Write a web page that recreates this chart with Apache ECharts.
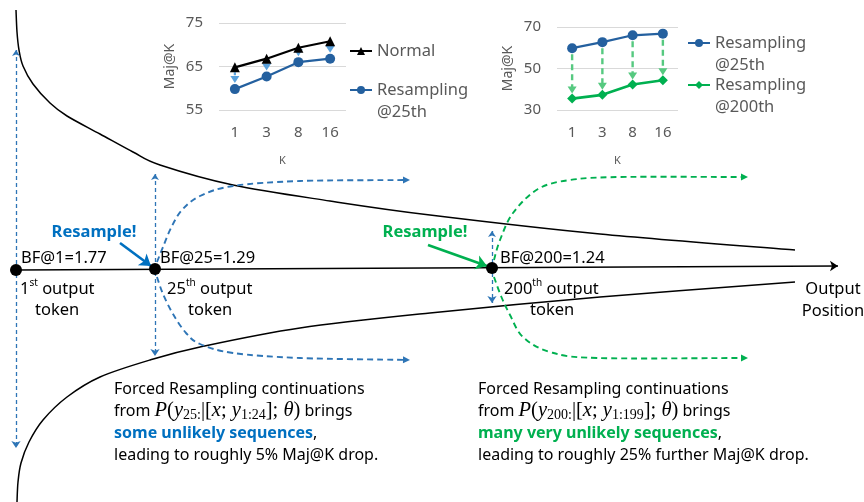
<!DOCTYPE html>
<html><head><meta charset="utf-8">
<script src="https://cdn.jsdelivr.net/npm/echarts@6/dist/echarts.min.js"></script>
<style>html,body{margin:0;padding:0;background:#fff}#c{width:864px;height:502px}</style>
</head><body><div id="c"></div>
<script>
// ---- inset data ----
const kLabels = ['1', '3', '8', '16'];
const normalMaj = [64.8, 66.8, 69.3, 70.8];
const resample25Maj = [59.8, 62.7, 66.0, 66.8];
const resample200Maj = [35.5, 37.3, 42.3, 44.3];
const inset1Ticks = [55, 65, 75];
const inset2Ticks = [30, 50, 70];

// ---- schematic diagram data (diagram units: x = output position, y = spread) ----
const upperBound = [[16,10],[17,32],[19,50],[23,66],[33,84],[50,103],[67,116],[100,134],[133,152],[160,165],[233,185],[330,201],[430,215],[600,234],[795,250]];
const lowerBound = [[17,502],[18,482],[21,463],[29,442],[43,420],[67,397],[100,377],[150,360],[200,347],[300,328],[430,313],[600,297],[795,282]];
const tokenAxis = [[16,270],[838,266]];
const tokenPoints = [[16,270],[155,269],[492,268]];
const spreadArrows = [[[16,50],[16,448]],[[155,174],[155,356]],[[492,231],[492,303]]];
const blueUp = [[157,262],[163,247],[171,228],[182,210],[200,196],[233,186],[300,181],[410,180]];
const blueDown = [[157,277],[163,294],[173,314],[186,333],[200,344],[233,353],[300,358],[410,360]];
const greenUp = [[494,260],[500,240],[513,213],[538,189],[570,180],[620,177],[748,177]];
const greenDown = [[494,277],[501,296],[510,315],[523,337],[550,352],[597,358],[748,358]];
const blueResampleArrow = [[120,243],[151,266]];
const greenResampleArrow = [[428,245],[487,266]];

const GRAY = '#595959';
const FONT = '"Noto Sans", sans-serif';
const BLUE_LINE = '#24609F';
const GREEN = '#00B050';
const DASH_BLUE = '#2E75B6';
const TXT = 16.5;   // labels on the diagram
const PTXT = 16;    // paragraph text

function dropArrow(color, topGap, bottomGap, dash, width) {
  return function (params, api) {
    const p1 = api.coord([api.value(0), api.value(1)]);
    const p2 = api.coord([api.value(0), api.value(2)]);
    const x = p1[0];
    const y1 = p1[1] + topGap, y2 = p2[1] - bottomGap;
    return { type: 'group', children: [
      { type: 'line', shape: { x1: x, y1: y1, x2: x, y2: y2 - 5 }, style: { stroke: color, lineWidth: width, lineDash: dash } },
      { type: 'polygon', shape: { points: [[x - 4.5, y2 - 7], [x + 4.5, y2 - 7], [x, y2]] }, style: { fill: color } }
    ] };
  };
}

const insetAxisLabel = { fontSize: 15, color: GRAY, fontFamily: FONT };
function xInset(gi) {
  return { gridIndex: gi, type: 'category', data: kLabels, axisLine: { show: false }, axisTick: { show: false },
    axisLabel: Object.assign({ margin: 15 }, insetAxisLabel), name: 'K', nameLocation: 'middle', nameGap: 45,
    nameTextStyle: { fontSize: 11, color: GRAY, fontFamily: FONT } };
}
function yInset(gi, ticks) {
  return { gridIndex: gi, type: 'value', min: ticks[0], max: ticks[2], interval: ticks[1] - ticks[0],
    axisLine: { show: false }, axisTick: { show: false }, axisLabel: Object.assign({ margin: 16 }, insetAxisLabel),
    splitLine: { lineStyle: { color: '#D9D9D9', width: 1.2 } }, name: 'Maj@K', nameLocation: 'middle', nameGap: 42,
    nameTextStyle: { fontSize: 14, color: GRAY, fontFamily: FONT } };
}
function legendItem(name, left, top, multi) {
  return { data: [name], left: left, top: top, padding: 0,
    orient: 'vertical', itemWidth: 22, itemHeight: 10, itemGap: 0, selectedMode: false,
    formatter: multi ? (n => ' \n' + n.trim()) : (n => n),
    textStyle: { fontSize: 16.5, color: GRAY, fontFamily: FONT, lineHeight: 22 } };
}

const diag = { xAxisIndex: 2, yAxisIndex: 2, silent: true, animation: false };

// curve specs referencing the named arrays
const curveSpecs = [
  { pts: upperBound, color: '#000', width: 1.5 },
  { pts: lowerBound, color: '#000', width: 1.5 },
  { pts: blueUp, color: DASH_BLUE, width: 1.9, dash: [6, 4], head: true },
  { pts: blueDown, color: DASH_BLUE, width: 1.9, dash: [6, 4], head: true },
  { pts: greenUp, color: GREEN, width: 1.9, dash: [6, 4], head: true },
  { pts: greenDown, color: GREEN, width: 1.9, dash: [6, 4], head: true }
];
function splinePath(p) {
  let d = 'M' + p[0][0] + ',' + p[0][1];
  for (let i = 0; i < p.length - 1; i++) {
    const p0 = p[i - 1] || p[i], p1 = p[i], p2 = p[i + 1], p3 = p[i + 2] || p2;
    const c1 = [p1[0] + (p2[0] - p0[0]) / 6, p1[1] + (p2[1] - p0[1]) / 6];
    const c2 = [p2[0] - (p3[0] - p1[0]) / 6, p2[1] - (p3[1] - p1[1]) / 6];
    d += ' C' + c1[0] + ',' + c1[1] + ' ' + c2[0] + ',' + c2[1] + ' ' + p2[0] + ',' + p2[1];
  }
  return d;
}
function renderCurve(params, api) {
  const spec = curveSpecs[params.dataIndex];
  const px = spec.pts.map(q => api.coord(q));
  const children = [];
  let drawPts = px;
  if (spec.head) {
    const a = px[px.length - 2], b = px[px.length - 1];
    const L = Math.hypot(b[0] - a[0], b[1] - a[1]);
    const ux = (b[0] - a[0]) / L, uy = (b[1] - a[1]) / L;
    const hl = 7, hw = 3.5;
    const base = [b[0] - ux * hl, b[1] - uy * hl];
    drawPts = px.slice(0, -1).concat([base]);
    children.push({ type: 'polygon', shape: { points: [b, [base[0] - uy * hw, base[1] + ux * hw], [base[0] + uy * hw, base[1] - ux * hw]] },
      style: { fill: spec.color } });
  }
  children.unshift({ type: 'path', shape: { pathData: splinePath(drawPts) },
    style: { stroke: spec.color, fill: null, lineWidth: spec.width, lineDash: spec.dash || null, lineCap: 'butt' } });
  return { type: 'group', children: children };
}

function arrowLines(name, list, color, width, dashed, sym, size, z) {
  return Object.assign({ type: 'lines', name: name, coordinateSystem: 'cartesian2d', symbol: sym, symbolSize: size,
    data: list.map(c => ({ coords: c })), lineStyle: { color: color, width: width, type: dashed ? [4, 3] : 'solid', opacity: 1, curveness: 0 }, z: z || 2 }, diag);
}

const chart = echarts.init(document.getElementById('c'), null, { renderer: 'canvas' });
const option = {
  animation: false,
  backgroundColor: '#fff',
  grid: [
    { left: 219, top: 23, width: 127, height: 87 },
    { left: 557, top: 27, width: 121, height: 83 },
    { left: 0, top: 0, right: 0, bottom: 0 }
  ],
  xAxis: [xInset(0), xInset(1), { gridIndex: 2, type: 'value', min: 0, max: 864, show: false }],
  yAxis: [yInset(0, inset1Ticks), yInset(1, inset2Ticks), { gridIndex: 2, type: 'value', min: 0, max: 502, inverse: true, show: false }],
  legend: [
    legendItem('Normal', 349, 40, false),
    legendItem('Resampling\n@25th', 349, 57, true),
    legendItem('Resampling\n@25th ', 687, 10, true),
    legendItem('Resampling\n@200th', 687, 52, true)
  ],
  series: [
    // inset 1
    { type: 'custom', name: 'drop25', xAxisIndex: 0, yAxisIndex: 0, z: 1,
      data: kLabels.map((k, i) => [i, normalMaj[i], resample25Maj[i]]),
      encode: { x: 0, y: [1, 2] }, renderItem: dropArrow('#5AA1DC', 5, 6, [3, 2], 2.2) },
    { type: 'line', name: 'Normal', xAxisIndex: 0, yAxisIndex: 0, data: normalMaj, symbol: 'triangle', symbolSize: 10,
      lineStyle: { color: '#000', width: 2.2 }, itemStyle: { color: '#000' }, z: 3 },
    { type: 'line', name: 'Resampling\n@25th', xAxisIndex: 0, yAxisIndex: 0, data: resample25Maj, symbol: 'circle', symbolSize: 10,
      lineStyle: { color: BLUE_LINE, width: 2.2 }, itemStyle: { color: BLUE_LINE }, z: 3 },
    // inset 2
    { type: 'custom', name: 'drop200', xAxisIndex: 1, yAxisIndex: 1, z: 1,
      data: kLabels.map((k, i) => [i, resample25Maj[i], resample200Maj[i]]),
      encode: { x: 0, y: [1, 2] }, renderItem: dropArrow('#56C980', 6, 5, [6, 4], 2.4) },
    { type: 'line', name: 'Resampling\n@25th ', xAxisIndex: 1, yAxisIndex: 1, data: resample25Maj, symbol: 'circle', symbolSize: 10,
      lineStyle: { color: BLUE_LINE, width: 2.2 }, itemStyle: { color: BLUE_LINE }, z: 3 },
    { type: 'line', name: 'Resampling\n@200th', xAxisIndex: 1, yAxisIndex: 1, data: resample200Maj, symbol: 'diamond', symbolSize: 10,
      lineStyle: { color: GREEN, width: 2.6 }, itemStyle: { color: GREEN }, z: 3 },
    // diagram
    Object.assign({ type: 'custom', name: 'curves', data: curveSpecs.map((c, i) => [c.pts[0][0], c.pts[0][1], i]),
      encode: { x: 0, y: 1 }, renderItem: renderCurve, clip: false, z: 1 }, diag),
    arrowLines('axis', [tokenAxis], '#000', 1.5, false, ['none', 'arrow'], [0, 8]),
    arrowLines('spread', spreadArrows, DASH_BLUE, 1.3, true, ['arrow', 'arrow'], [6, 7]),
    arrowLines('resampleBlue', [blueResampleArrow], '#0070C0', 2.6, false, ['none', 'arrow'], [0, 11], 4),
    arrowLines('resampleGreen', [greenResampleArrow], GREEN, 2.6, false, ['none', 'arrow'], [0, 11], 4),
    Object.assign({ type: 'scatter', name: 'tokens', data: tokenPoints, symbol: 'circle', symbolSize: 12,
      itemStyle: { color: '#000', opacity: 1 }, z: 5 }, diag)
  ],
  graphic: (function () {
    const t = (x, y, text, extra) => ({ type: 'text', x: x, y: y, z: 10, silent: true,
      style: Object.assign({ text: text, font: TXT + 'px ' + FONT, fill: '#000', align: 'left', verticalAlign: 'middle', lineHeight: 21 }, extra || {}) });
    const p = (x, y, text, extra) => t(x, y, text, Object.assign({ font: PTXT + 'px ' + FONT }, extra || {}));
    const sup = { s: { fontSize: 10, fontFamily: FONT, verticalAlign: 'top', lineHeight: 11, fill: '#000' } };
    const mathRich = {
      m: { fontFamily: '"Liberation Serif", serif', fontStyle: 'italic', fontSize: 20.5, lineHeight: 22, fill: '#000' },
      r: { fontFamily: '"Liberation Serif", serif', fontSize: 20.5, lineHeight: 22, fill: '#000' },
      sub: { fontFamily: '"Liberation Serif", serif', fontSize: 14, lineHeight: 12, verticalAlign: 'bottom', fill: '#000' }
    };
    const bold = c => ({ b: { fontFamily: FONT, fontSize: PTXT, fontWeight: 'bold', fill: c, lineHeight: 21 } });
    return [
      t(94, 232, 'Resample!', { font: 'bold ' + TXT + 'px ' + FONT, fill: '#0070C0', align: 'center' }),
      t(425, 232, 'Resample!', { font: 'bold ' + TXT + 'px ' + FONT, fill: GREEN, align: 'center' }),
      t(21, 258, 'BF@1=1.77'),
      t(160, 258, 'BF@25=1.29'),
      t(500, 258, 'BF@200=1.24'),
      t(20, 289, '1{s|st} output', { rich: sup }),
      t(35, 310, 'token'),
      t(167, 289, '25{s|th} output', { rich: sup }),
      t(188, 310, 'token'),
      t(504, 289, '200{s|th} output', { rich: sup }),
      t(530, 310, 'token'),
      t(833, 289, 'Output', { align: 'center' }),
      t(833, 311, 'Position', { align: 'center' }),
      p(114, 389, 'Forced Resampling continuations'),
      p(114, 411, 'from {m|P}{r|(}{m|y}{sub|25:}{r||[}{m|x}{r|; }{m|y}{sub|1:24}{r|]; }{m|θ}{r|)} brings', { rich: mathRich }),
      p(114, 433, '{b|some unlikely sequences},', { rich: bold('#0070C0') }),
      p(114, 455, 'leading to roughly 5% Maj@K drop.'),
      p(478, 389, 'Forced Resampling continuations'),
      p(478, 411, 'from {m|P}{r|(}{m|y}{sub|200:}{r||[}{m|x}{r|; }{m|y}{sub|1:199}{r|]; }{m|θ}{r|)} brings', { rich: mathRich }),
      p(478, 433, '{b|many very unlikely sequences},', { rich: bold(GREEN) }),
      p(478, 455, 'leading to roughly 25% further Maj@K drop.')
    ];
  })()
};
chart.setOption(option);
</script>
</body></html>
